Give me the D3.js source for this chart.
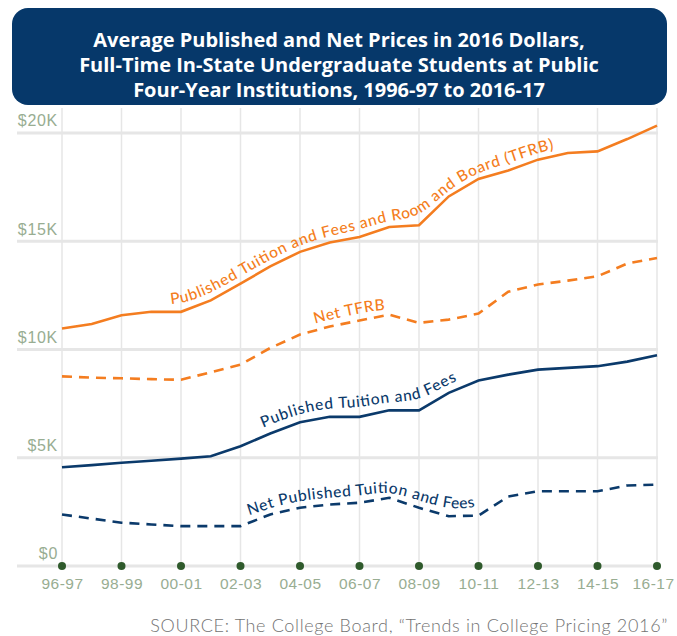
<!DOCTYPE html>
<html>
<head>
<meta charset="utf-8">
<script src="https://cdn.jsdelivr.net/npm/d3@7"></script>
<style>
  body { margin: 0; background: #fff; }
  svg { display: block; font-family: Lato, "Open Sans", sans-serif; }
  .grid-h { stroke: #e6e6e6; stroke-width: 3; }
  .grid-v { stroke: #e6e6e6; stroke-width: 1.5; }
  .tick-label { fill: #98ad92; font-size: 16px; font-weight: 300; letter-spacing: 0.7px; }
  .x-label { font-size: 15.5px; letter-spacing: 0.5px; }
  .series { fill: none; stroke-width: 2.6; }
  .series-label { font-size: 15.5px; font-weight: 500; }
</style>
</head>
<body>
<svg id="chart" width="677" height="636"></svg>
<script>
// school years, one point per year
var years = ['96-97', '97-98', '98-99', '99-00', '00-01', '01-02', '02-03', '03-04', '04-05', '05-06',
    '06-07', '07-08', '08-09', '09-10', '10-11', '11-12', '12-13', '13-14', '14-15', '15-16', '16-17'];

// 2016 dollars
var tfrb = [10970, 11180, 11580, 11740, 11740, 12270, 13040, 13840, 14510, 14940, 15200,
    15660, 15740, 17070, 17880, 18270, 18770, 19080, 19150, 19720, 20340];
var netTfrb = [8760, 8700, 8670, 8630, 8600, 8950, 9300, 10070, 10690, 11060, 11340,
    11610, 11230, 11380, 11660, 12670, 13000, 13180, 13380, 13970, 14230];
var tuition = [4560, 4660, 4770, 4860, 4960, 5070, 5530, 6120, 6640, 6890, 6890,
    7190, 7190, 8000, 8570, 8840, 9070, 9150, 9230, 9440, 9730];
var netTuition = [2380, 2190, 2000, 1920, 1840, 1840, 1840, 2380, 2690, 2840, 2920,
    3150, 2690, 2300, 2330, 3210, 3450, 3450, 3450, 3720, 3760];

var yTicks = [0, 5000, 10000, 15000, 20000];
var yTickLabels = ['$0', '$5K', '$10K', '$15K', '$20K'];

var titleLines = [
    'Average Published and Net Prices in 2016 Dollars,',
    'Full-Time In-State Undergraduate Students at Public',
    'Four-Year Institutions, 1996-97 to 2016-17'
];
var sourceText = 'SOURCE: The College Board, \u201CTrends in College Pricing 2016\u201D';

var orange = '#f47d20';
var navy = '#0b3a6b';

var svg = d3.select('#chart');

var x = d3.scaleLinear().domain([0, years.length - 1]).range([62, 657]);
var y = d3.scaleLinear().domain([0, 20000]).range([566, 133]);

// title box
svg.append('rect')
    .attr('x', 12).attr('y', 8)
    .attr('width', 655).attr('height', 97)
    .attr('rx', 16)
    .attr('fill', '#06386a');

svg.selectAll('.title')
    .data(titleLines)
  .enter()
  .append('text')
    .attr('class', 'title')
    .attr('x', 339)
    .attr('y', function(d, i) { return 47 + i * 25; })
    .attr('text-anchor', 'middle')
    .attr('fill', '#fff')
    .attr('font-family', '"Open Sans", Lato, sans-serif')
    .attr('font-size', 20)
    .attr('font-weight', 700)
    .text(function(d) { return d; });

// grid
var evenIdx = d3.range(0, years.length, 2);

svg.selectAll('.grid-v')
    .data(evenIdx)
  .enter()
  .append('line')
    .attr('class', 'grid-v')
    .attr('x1', function(d) { return x(d); })
    .attr('x2', function(d) { return x(d); })
    .attr('y1', 108)
    .attr('y2', y(0));

svg.selectAll('.grid-h')
    .data(yTicks)
  .enter()
  .append('line')
    .attr('class', 'grid-h')
    .attr('x1', 17)
    .attr('x2', 658)
    .attr('y1', function(d) { return y(d); })
    .attr('y2', function(d) { return y(d); });

// y axis labels sit above the grid lines
var yAxis = d3.axisLeft(y)
    .tickValues(yTicks)
    .tickSize(0)
    .tickPadding(0)
    .tickFormat(function(d, i) { return yTickLabels[i]; });

svg.append('g')
    .attr('transform', 'translate(58,0)')
    .call(yAxis)
    .call(function(g) { g.select('.domain').remove(); })
    .selectAll('text')
    .attr('class', 'tick-label')
    .attr('dy', '-0.45em')
    .attr('font-family', null)
    .attr('font-size', null);

// x axis labels
var xAxis = d3.axisBottom(x)
    .tickValues(evenIdx)
    .tickSize(0)
    .tickPadding(12)
    .tickFormat(function(d) { return years[d]; });

svg.append('g')
    .attr('transform', 'translate(0,' + y(0) + ')')
    .call(xAxis)
    .call(function(g) { g.select('.domain').remove(); })
    .selectAll('text')
    .attr('class', 'tick-label x-label')
    .attr('font-family', null)
    .attr('font-size', null)
    // keep the last label inside the frame
    .attr('dx', function(d) { return d === years.length - 1 ? -4 : null; });

// lines
var line = d3.line()
    .x(function(d, i) { return x(i); })
    .y(function(d) { return y(d); });

var series = [
    {name: 'tfrb', values: tfrb, color: orange, dash: null,
        label: 'Published Tuition and Fees and Room and Board (TFRB)', startX: 171, endX: 554, lift: 7},
    {name: 'netTfrb', values: netTfrb, color: orange, dash: '10,7',
        label: 'Net TFRB', startX: 315, endX: 385, lift: 7},
    {name: 'tuition', values: tuition, color: navy, dash: null,
        label: 'Published Tuition and Fees', startX: 263, endX: 457, lift: 9},
    {name: 'netTuition', values: netTuition, color: navy, dash: '10,7',
        label: 'Net Published Tuition and Fees', startX: 249, endX: 475, lift: 7}
];

svg.selectAll('.series')
    .data(series)
  .enter()
  .append('path')
    .attr('class', 'series')
    .attr('d', function(d) { return line(d.values); })
    .attr('stroke', function(d) { return d.color; })
    .attr('stroke-dasharray', function(d) { return d.dash; });

// labels ride on a smoothed copy of each line, lifted a few pixels
var defs = svg.append('defs');

function lengthAtX(node, targetX) {
    var total = node.getTotalLength();
    var lo = 0, hi = total;
    for (var k = 0; k < 40; k++) {
        var mid = (lo + hi) / 2;
        if (node.getPointAtLength(mid).x < targetX) lo = mid; else hi = mid;
    }
    return lo;
}

series.forEach(function(s) {
    var labelLine = d3.line()
        .curve(d3.curveBasis)
        .x(function(d, i) { return x(i); })
        .y(function(d) { return y(d) - s.lift; });

    var p = defs.append('path')
        .attr('id', 'lp-' + s.name)
        .attr('d', labelLine(s.values));

    var from = lengthAtX(p.node(), s.startX);
    var to = lengthAtX(p.node(), s.endX);

    svg.append('text')
        .attr('class', 'series-label')
        .attr('fill', s.color)
      .append('textPath')
        .attr('href', '#lp-' + s.name)
        .attr('startOffset', from)
        .attr('textLength', to - from)
        .attr('lengthAdjust', 'spacing')
        .text(s.label);
});

// year dots on the baseline
svg.selectAll('.dot')
    .data(evenIdx)
  .enter()
  .append('circle')
    .attr('class', 'dot')
    .attr('cx', function(d) { return x(d); })
    .attr('cy', y(0))
    .attr('r', 4)
    .attr('fill', '#2f5a2c');

svg.append('text')
    .attr('x', 668)
    .attr('y', 632)
    .attr('text-anchor', 'end')
    .attr('fill', '#737373')
    .attr('font-size', 18)
    .attr('font-weight', 300)
    .attr('letter-spacing', 0.65)
    .text(sourceText);
</script>
</body>
</html>
